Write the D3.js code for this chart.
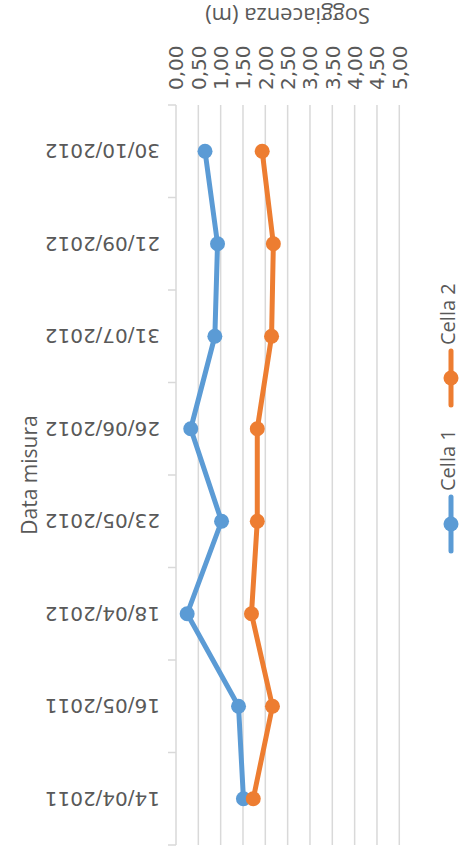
<!DOCTYPE html>
<html><head><meta charset="utf-8">
<script src="https://cdn.jsdelivr.net/npm/d3@7"></script>
<style>html,body{margin:0;padding:0;background:#fff;}svg{display:block;}</style>
</head><body>
<svg id="chart" width="462" height="855"></svg>
<script>
const categories = ["14/04/2011","16/05/2011","18/04/2012","23/05/2012","26/06/2012","31/07/2012","21/09/2012","30/10/2012"];
const cella1 = [1.51, 1.40, 0.25, 1.02, 0.33, 0.87, 0.93, 0.65];
const cella2 = [1.73, 2.16, 1.69, 1.82, 1.82, 2.14, 2.18, 1.93];
const valueTicks = [0,0.5,1,1.5,2,2.5,3,3.5,4,4.5,5];
const seriesNames = ["Cella 1","Cella 2"];
const colors = ["#5B9BD5","#ED7D31"];

const svg = d3.select("#chart");
const x = d3.scaleLinear().domain([0,5]).range([176,399.3]);
const y = d3.scaleBand().domain(categories).range([845,105]);
const bw = y.bandwidth();
const fmt = v => d3.format(".2f")(v).replace(".", ",");
const numFont = "DejaVu Sans";
const txtFont = "Open Sans";
const txtColor = "#595959";
const grid = "#D9D9D9";

// gridlines
svg.append("g").selectAll("line").data(valueTicks.slice(1)).join("line")
  .attr("x1", d=>x(d)).attr("x2", d=>x(d))
  .attr("y1", 105).attr("y2", 845)
  .attr("stroke", grid).attr("stroke-width", 1.5);

// category axis line and ticks
svg.append("line").attr("x1", x(0)).attr("x2", x(0)).attr("y1", 105).attr("y2", 845)
  .attr("stroke", grid).attr("stroke-width", 1.5);
svg.append("g").selectAll("line").data(categories.map(c=>y(c)).concat([y.range()[0]])).join("line")
  .attr("x1", x(0)-8).attr("x2", x(0)).attr("y1", d=>d).attr("y2", d=>d)
  .attr("stroke", grid).attr("stroke-width", 1.5);

// value tick labels (rotated -90)
svg.append("g").selectAll("text").data(valueTicks).join("text")
  .attr("transform", d=>`translate(${x(d)},90) rotate(-90)`)
  .attr("dy","0.36em")
  .attr("text-anchor","start")
  .attr("font-family", numFont).attr("font-size", 20).attr("fill", txtColor)
  .text(fmt);

// category labels (rotated 180)
svg.append("g").selectAll("text").data(categories).join("text")
  .attr("transform", d=>`translate(160,${y(d)+bw/2}) rotate(180)`)
  .attr("dy","0.36em")
  .attr("text-anchor","start")
  .attr("font-family", numFont).attr("font-size", 20).attr("fill", txtColor)
  .text(d=>d);

// axis titles
svg.append("text")
  .attr("transform", `translate(${(x(0)+x(5))/2},16) rotate(180)`)
  .attr("dy","0.36em").attr("text-anchor","middle")
  .attr("font-family", txtFont).attr("font-size", 22).attr("fill", txtColor)
  .text("Soggiacenza (m)");
svg.append("text")
  .attr("transform", `translate(29,${(105+845)/2}) rotate(-90)`)
  .attr("dy","0.36em").attr("text-anchor","middle")
  .attr("font-family", txtFont).attr("font-size", 21).attr("fill", txtColor)
  .text("Data misura");

// series
const data = [cella1, cella2];
const line = d3.line().x(d=>x(d.v)).y(d=>y(d.c)+bw/2);
data.forEach((vals, i) => {
  const pts = categories.map((c,j)=>({c, v: vals[j]}));
  svg.append("path").datum(pts).attr("d", line)
    .attr("fill","none").attr("stroke", colors[i]).attr("stroke-width", 5)
    .attr("stroke-linejoin","round").attr("stroke-linecap","round");
  svg.append("g").selectAll("circle").data(pts).join("circle")
    .attr("cx", d=>x(d.v)).attr("cy", d=>y(d.c)+bw/2).attr("r", 7.5)
    .attr("fill", colors[i]);
});

// legend (rotated -90)
const legendY = [524, 378];
const legendX = 451;
seriesNames.forEach((name, i) => {
  const g = svg.append("g");
  g.append("line").attr("x1", legendX).attr("x2", legendX)
    .attr("y1", legendY[i]+27).attr("y2", legendY[i]-27)
    .attr("stroke", colors[i]).attr("stroke-width", 5).attr("stroke-linecap","round");
  g.append("circle").attr("cx", legendX).attr("cy", legendY[i]).attr("r", 7.5).attr("fill", colors[i]);
  g.append("text")
    .attr("transform", `translate(${legendX-3},${legendY[i]-33}) rotate(-90)`)
    .attr("dy","0.34em").attr("text-anchor","start")
    .attr("font-family", txtFont).attr("font-size", 20).attr("fill", txtColor)
    .text(name);
});
</script>
</body></html>
